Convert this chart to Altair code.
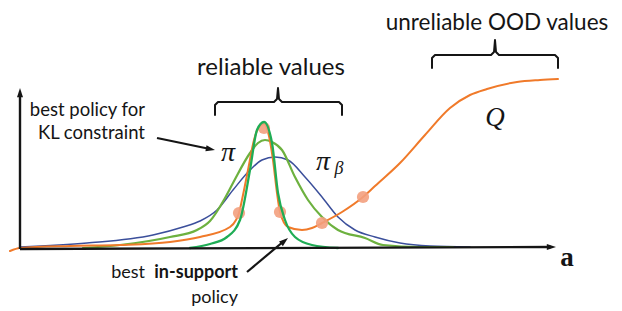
import altair as alt
import pandas as pd

# ---- data (chart units: x = action a, y = value / density) ----
q_x = [-10, 0, 50, 100, 150, 180, 210, 216, 219, 223, 228, 234, 239, 244, 248, 253, 257, 260,
       268, 282, 292, 302, 322, 343, 355, 380, 405, 430, 450, 467, 497, 520, 538]
q_y = [-2, 1, 3, 4, 7, 12, 22, 29, 36, 54, 79, 109, 122, 125, 117, 89, 56, 37,
       22, 19, 21, 26, 37, 52, 63, 86, 114, 141, 154, 160, 167, 169, 170]

q_dot_x = [219, 244, 260, 302, 343]
q_dot_y = [36, 121, 37, 26, 52]

pib_x = [0, 67, 133, 163, 180, 197, 213, 230, 242, 255, 268, 285, 302, 318, 335, 355, 380, 410, 450]
pib_y = [2, 6, 14, 22, 28, 39, 59, 79, 89, 92, 89, 72, 52, 32, 19, 12, 6, 3, 2]

pi_x = [63, 100, 150, 177, 190, 205, 213, 230, 238, 245, 252, 262, 275, 288, 302, 318, 345, 363, 400, 433]
pi_y = [1, 4, 12, 19, 28, 51, 66, 96, 106, 109, 107, 99, 72, 49, 32, 19, 11, 4, 2, 2]

sup_x = [170, 190, 207, 220, 230, 237, 244, 252, 258, 265, 275, 292, 318]
sup_y = [1, 5, 12, 29, 79, 119, 127, 106, 56, 29, 12, 4, 1]

brace_rel_x = [195, 195, 198, 254, 257, 258, 259, 262, 319, 322, 322]
brace_rel_y = [134, 144, 147, 147, 150, 161, 150, 147, 147, 144, 134]

brace_ood_x = [412, 412, 415, 471, 474, 475, 476, 479, 535, 538, 538]
brace_ood_y = [181, 191, 194, 194, 197, 209, 197, 194, 194, 191, 181]

X_DOM = [-12, 594]
Y_DOM = [-62, 241]

xs = alt.Scale(domain=X_DOM, nice=False, zero=False)
ys = alt.Scale(domain=Y_DOM, nice=False, zero=False)

INK = "#151515"


def enc(ch):
    return ch.encode(
        x=alt.X("x:Q", scale=xs, axis=None),
        y=alt.Y("y:Q", scale=ys, axis=None),
    )


def curve(xv, yv, color, width, interp="monotone"):
    df = pd.DataFrame({"x": xv, "y": yv, "i": list(range(len(xv)))})
    return alt.Chart(df).mark_line(
        color=color, strokeWidth=width, interpolate=interp,
        strokeCap="round", strokeJoin="round"
    ).encode(
        x=alt.X("x:Q", scale=xs, axis=None),
        y=alt.Y("y:Q", scale=ys, axis=None),
        order="i:Q",
    )


def seg(x1, y1, x2, y2, width=2.4):
    df = pd.DataFrame({"x": [x1], "y": [y1], "x2": [x2], "y2": [y2]})
    return alt.Chart(df).mark_rule(color=INK, strokeWidth=width, strokeCap="butt").encode(
        x=alt.X("x:Q", scale=xs, axis=None),
        y=alt.Y("y:Q", scale=ys, axis=None),
        x2="x2:Q", y2="y2:Q",
    )


HEAD = "M0,0 L-0.75,2.3 L0.75,2.3 Z"


def head(x, y, ang, size=64):
    df = pd.DataFrame({"x": [x], "y": [y]})
    return enc(alt.Chart(df).mark_point(
        shape=HEAD, filled=True, color=INK, opacity=1, size=size, angle=ang, strokeWidth=0
    ))


def label(s, x, y, size, font="Lato", **kw):
    df = pd.DataFrame({"t": [s], "x": [x], "y": [y]})
    return alt.Chart(df).mark_text(fontSize=size, font=font, color=INK, baseline="middle", **kw).encode(
        x=alt.X("x:Q", scale=xs, axis=None),
        y=alt.Y("y:Q", scale=ys, axis=None),
        text="t:N",
    )


dots = enc(alt.Chart(pd.DataFrame({"x": q_dot_x, "y": q_dot_y})).mark_circle(
    color="#f3a07e", opacity=0.9, size=150
))

layers = [
    curve(pib_x, pib_y, "#3b4f9b", 1.5),
    curve(pi_x, pi_y, "#6db13f", 2.2),
    curve(q_x, q_y, "#f07a2a", 2.0),
    dots,
    curve(sup_x, sup_y, "#1fad55", 2.3),
    # axes
    seg(0, 0, 0, 155),
    head(0, 161, 0),
    seg(0, 0, 531, 2),
    head(536, 2, 90),
    # braces
    curve(brace_rel_x, brace_rel_y, INK, 2.0, "linear"),
    curve(brace_ood_x, brace_ood_y, INK, 2.0, "linear"),
    # arrows
    seg(137, 111, 190, 100, 2.2),
    head(195, 99, 101),
    seg(227, -23, 264, 8, 2.2),
    head(268, 11, 50),
    # texts
    label("unreliable OOD values", 477, 226, 22.5),
    label("reliable values", 251, 181, 24),
    label("best policy for", 125, 139, 18.5, align="right"),
    label("KL constraint", 125, 116, 18.5, align="right"),
    label("best", 125, -24, 18, align="right"),
    label("in-support", 218, -24, 18, align="right", fontWeight="bold"),
    label("policy", 218, -49, 18, align="right"),
    label("π", 208, 96, 28, font="Liberation Serif", fontStyle="italic"),
    label("π", 303, 87, 28, font="Liberation Serif", fontStyle="italic"),
    label("β", 319, 80, 18, font="Liberation Serif", fontStyle="italic"),
    label("Q", 475, 131, 27, font="Liberation Serif", fontStyle="italic"),
    label("a", 547, -9, 27, font="Liberation Serif", fontWeight="bold"),
]

chart = alt.layer(*layers).properties(
    width=606, height=303, padding=0,
    autosize=alt.AutoSizeParams(type="none"),
    background="white",
).configure_view(stroke=None)

chart.save("out.html", embed_options={"renderer": "svg", "actions": False})
